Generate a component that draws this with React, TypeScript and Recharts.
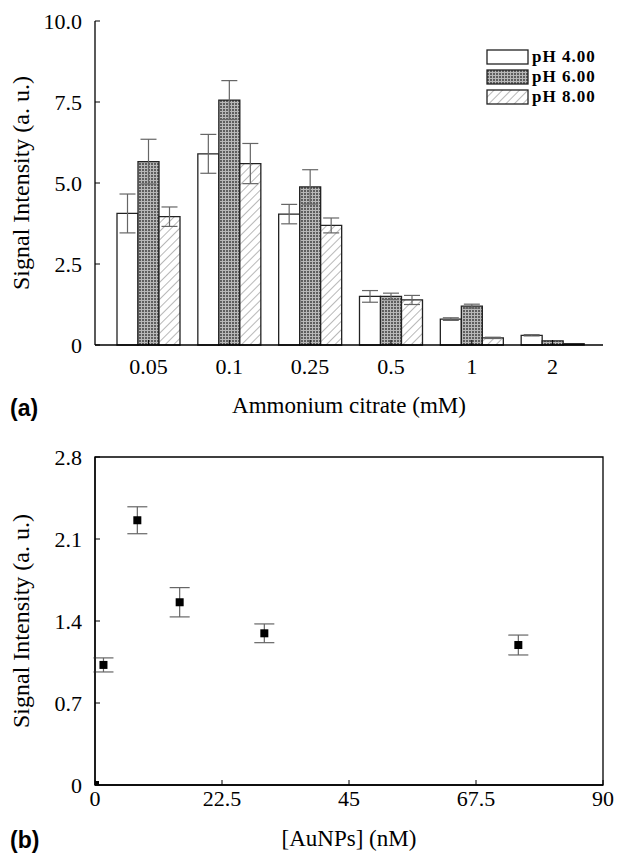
import React from "react";
import {
  BarChart,
  Bar,
  XAxis,
  YAxis,
  ErrorBar,
  ScatterChart,
  Scatter,
  Label,
  ReferenceArea,
} from "recharts";

// panel (a): signal vs ammonium citrate, three pH values
const citrateLevels = ["0.05", "0.1", "0.25", "0.5", "1", "2"];
const ph4Values = [4.06, 5.9, 4.04, 1.5, 0.8, 0.3];
const ph4Errors = [0.6, 0.6, 0.3, 0.18, 0.04, 0.02];
const ph6Values = [5.66, 7.56, 4.88, 1.5, 1.2, 0.13];
const ph6Errors = [0.69, 0.6, 0.53, 0.1, 0.06, 0];
const ph8Values = [3.96, 5.6, 3.69, 1.39, 0.22, 0.04];
const ph8Errors = [0.3, 0.62, 0.23, 0.14, 0.02, 0];
const seriesNames = ["pH 4.00", "pH 6.00", "pH 8.00"];
const topTicks = [0, 2.5, 5, 7.5, 10];

// panel (b): signal vs AuNPs concentration
const auConc = [0, 1.5, 7.5, 15, 30, 75];
const auSignal = [0, 1.025, 2.26, 1.56, 1.295, 1.195];
const auError = [0, 0.06, 0.115, 0.125, 0.08, 0.085];
const bottomXTicks = [0, 22.5, 45, 67.5, 90];
const bottomYTicks = [0, 0.7, 1.4, 2.1, 2.8];

const barData = citrateLevels.map((c, i) => ({
  conc: c,
  ph4: ph4Values[i],
  ph4Err: ph4Errors[i],
  ph6: ph6Values[i],
  ph6Err: ph6Errors[i],
  ph8: ph8Values[i],
  ph8Err: ph8Errors[i],
}));

const scatterData = auConc.map((c, i) => ({
  conc: c,
  signal: auSignal[i],
  err: auError[i],
}));

const serif = "Liberation Serif";
const tickStyle = { fontFamily: serif, fontSize: 22, fill: "#000" };
const fills = ["#fff", "url(#gridPat)", "url(#hatchPat)"];

const VerticalTitle = (props: any) => {
  const { viewBox, value } = props;
  const cx = viewBox.x + 21;
  const cy = viewBox.y + viewBox.height / 2;
  return (
    <text
      x={cx}
      y={cy}
      transform={`rotate(-90 ${cx} ${cy})`}
      textAnchor="middle"
      dominantBaseline="central"
      style={{ fontFamily: serif, fontSize: 24 }}
      fill="#000"
    >
      {value}
    </text>
  );
};

const SquareDot = (props: any) => {
  const { cx, cy, payload } = props;
  if (payload && payload.conc === 0) {
    return <rect x={cx} y={cy - 4} width={4} height={4} fill="#000" />;
  }
  return <rect x={cx - 4} y={cy - 4} width={8} height={8} fill="#000" />;
};

const PanelTag = ({ text, top }: { text: string; top: number }) => (
  <div
    style={{
      position: "absolute",
      left: 10,
      top,
      fontFamily: "Liberation Sans",
      fontWeight: "bold",
      fontSize: 23,
      lineHeight: "26px",
    }}
  >
    {text}
  </div>
);

const LegendBox = () => (
  <div style={{ position: "absolute", left: 486, top: 47 }}>
    {seriesNames.map((name, i) => (
      <div
        key={name}
        style={{ display: "flex", alignItems: "center", height: 20 }}
      >
        <svg width={44} height={16}>
          <rect
            x={1}
            y={1}
            width={41}
            height={14}
            fill={fills[i]}
            stroke="#222"
            strokeWidth={1.3}
          />
        </svg>
        <span
          style={{
            fontFamily: serif,
            fontWeight: "bold",
            fontSize: 17,
            letterSpacing: 1,
            marginLeft: 2,
          }}
        >
          {name}
        </span>
      </div>
    ))}
  </div>
);

export default function App() {
  return (
    <div
      style={{
        position: "relative",
        width: 631,
        height: 862,
        marginLeft: -8,
        marginTop: -8,
        background: "#fff",
        fontFamily: serif,
      }}
    >
      <BarChart
        width={631}
        height={430}
        data={barData}
        margin={{ top: 21, right: 28, bottom: 45, left: 0 }}
        barGap={0}
        barSize={21}
      >
        <defs>
          <pattern id="gridPat" width={3} height={3} patternUnits="userSpaceOnUse">
            <rect width={3} height={3} fill="#5e5e5e" />
            <path d="M0 0.5H3M0.5 0V3" stroke="#b8b8b8" strokeWidth={1} />
          </pattern>
          <pattern
            id="hatchPat"
            width={6}
            height={6}
            patternUnits="userSpaceOnUse"
            patternTransform="rotate(45)"
          >
            <rect width={6} height={6} fill="#fff" />
            <line x1={0} y1={0} x2={0} y2={6} stroke="#888" strokeWidth={1.2} />
          </pattern>
        </defs>
        <XAxis
          dataKey="conc"
          height={40}
          padding={{ left: 13, right: 10 }}
          axisLine={{ stroke: "#000", strokeWidth: 1.3 }}
          tickLine={{ stroke: "#000" }}
          tickSize={-5}
          tickMargin={18}
          tick={tickStyle}
        >
          <Label
            value="Ammonium citrate (mM)"
            position="bottom"
            offset={12}
            style={{ fontFamily: serif, fontSize: 23, fill: "#000" }}
          />
        </XAxis>
        <XAxis
          xAxisId="top"
          dataKey="conc"
          orientation="top"
          height={0}
          tick={false}
          tickLine={false}
          axisLine={{ stroke: "#000", strokeWidth: 1.3 }}
        />
        <YAxis
          width={95}
          domain={[0, 10]}
          ticks={topTicks}
          interval={0}
          tickFormatter={(v: number) => (v === 0 ? "0" : v.toFixed(1))}
          axisLine={{ stroke: "#000", strokeWidth: 1.3 }}
          tickLine={{ stroke: "#000" }}
          tickSize={-5}
          tickMargin={18}
          tick={tickStyle}
        >
          <Label value="Signal Intensity (a. u.)" content={VerticalTitle} />
        </YAxis>
        <YAxis
          yAxisId="right"
          orientation="right"
          width={0}
          domain={[0, 10]}
          tick={false}
          tickLine={false}
          axisLine={{ stroke: "#000", strokeWidth: 1.3 }}
        />
        <Bar dataKey="ph4" name={seriesNames[0]} fill={fills[0]} stroke="#222" strokeWidth={1.3} isAnimationActive={false}>
          <ErrorBar dataKey="ph4Err" width={8} stroke="#666" strokeWidth={1.2} />
        </Bar>
        <Bar dataKey="ph6" name={seriesNames[1]} fill={fills[1]} stroke="#222" strokeWidth={1.3} isAnimationActive={false}>
          <ErrorBar dataKey="ph6Err" width={8} stroke="#666" strokeWidth={1.2} />
        </Bar>
        <Bar dataKey="ph8" name={seriesNames[2]} fill={fills[2]} stroke="#222" strokeWidth={1.3} isAnimationActive={false}>
          <ErrorBar dataKey="ph8Err" width={8} stroke="#666" strokeWidth={1.2} />
        </Bar>
      </BarChart>
      <LegendBox />
      <PanelTag text="(a)" top={395} />

      <ScatterChart
        width={631}
        height={432}
        margin={{ top: 27, right: 28, bottom: 37, left: 0 }}
      >
        <XAxis
          type="number"
          dataKey="conc"
          domain={[0, 90]}
          ticks={bottomXTicks}
          interval={0}
          height={40}
          axisLine={{ stroke: "#000", strokeWidth: 1.3 }}
          tickLine={{ stroke: "#000" }}
          tickSize={-5}
          tickMargin={10}
          tick={tickStyle}
        >
          <Label
            value="[AuNPs] (nM)"
            position="bottom"
            offset={5}
            style={{ fontFamily: serif, fontSize: 23, fill: "#000" }}
          />
        </XAxis>
        <YAxis
          type="number"
          dataKey="signal"
          width={95}
          domain={[0, 2.8]}
          ticks={bottomYTicks}
          interval={0}
          tickFormatter={(v: number) => (v === 0 ? "0" : String(v))}
          axisLine={{ stroke: "#000", strokeWidth: 1.3 }}
          tickLine={{ stroke: "#000" }}
          tickSize={-5}
          tickMargin={18}
          tick={tickStyle}
        >
          <Label value="Signal Intensity (a. u.)" content={VerticalTitle} />
        </YAxis>
        <ReferenceArea
          x1={0}
          x2={90}
          y1={0}
          y2={2.8}
          fill="none"
          stroke="#000"
          strokeWidth={1.3}
          fillOpacity={0}
        />
        <Scatter data={scatterData} shape={SquareDot} isAnimationActive={false}>
          <ErrorBar dataKey="err" direction="y" width={10} stroke="#666" strokeWidth={1.2} />
        </Scatter>
      </ScatterChart>
      <PanelTag text="(b)" top={827} />
    </div>
  );
}
